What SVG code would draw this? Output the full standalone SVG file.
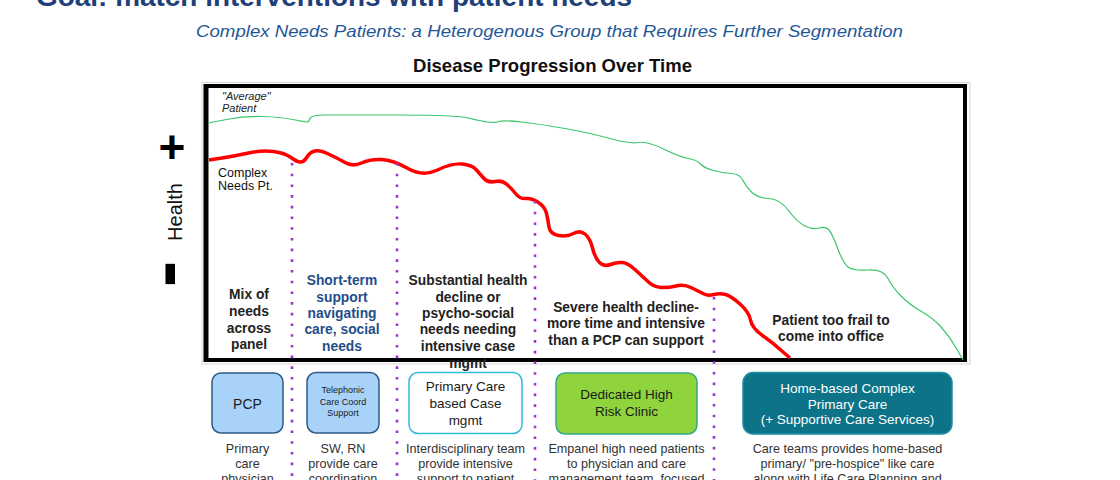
<svg xmlns="http://www.w3.org/2000/svg" width="1120" height="480" viewBox="0 0 1120 480">
<style>
text{font-family:"Liberation Sans",Arial,Helvetica,sans-serif}
.lbl{font-size:13.8px;font-weight:bold;fill:#222;text-anchor:middle}
.blue{fill:#1f4e8a}
.box{stroke-width:1.5}
.bt{font-size:13.5px;fill:#1a1a1a;text-anchor:middle}
.small{font-size:9px}
.big{font-size:14px}
.white{fill:#fff}
.desc{font-size:12.6px;fill:#333;text-anchor:middle}
.div{stroke:#9b35cf;stroke-width:2.6;stroke-dasharray:2.6 8.1;fill:none}
</style>
<rect width="1120" height="480" fill="#fff"/>
<g id="titles">
<text x="36" y="6" font-size="28" font-weight="bold" fill="#1f3f78" textLength="596" lengthAdjust="spacingAndGlyphs">Goal: match interventions with patient needs</text>
<text x="196" y="37" font-size="16.5" font-style="italic" fill="#1f5796" textLength="707" lengthAdjust="spacingAndGlyphs">Complex Needs Patients: a Heterogenous Group that Requires Further Segmentation</text>
<text x="413" y="72" font-size="18.5" font-weight="bold" fill="#111" textLength="279" lengthAdjust="spacingAndGlyphs">Disease Progression Over Time</text>
</g>
<g id="axis">
<text x="172" y="163" font-size="46" font-weight="bold" fill="#000" text-anchor="middle">+</text>
<text transform="translate(182,212) rotate(-90)" font-size="20" fill="#111" text-anchor="middle">Health</text>
<text transform="translate(191,274) rotate(-90)" font-size="80" font-weight="bold" fill="#000" text-anchor="middle">-</text>
</g>
<g id="chart">
<rect x="202" y="82.5" width="768" height="281.5" fill="none" stroke="#d4d4d4" stroke-width="1"/>
<rect x="206" y="86" width="759" height="274" fill="#fff" stroke="#000" stroke-width="4"/>
<line x1="206" y1="84" x2="206" y2="362" stroke="#000" stroke-width="5"/>
<text x="222" y="100" font-size="11" font-style="italic" fill="#222">"Average"</text>
<text x="222" y="112" font-size="11" font-style="italic" fill="#222">Patient</text>
<text x="218" y="177" font-size="12.5" fill="#111">Complex</text>
<text x="218" y="190" font-size="12.5" fill="#111">Needs Pt.</text>
</g>
<g id="curves" fill="none">
<path id="average" stroke="#3cc56c" stroke-width="1.2" d="M208,123 L226.5,119.5 Q245,116 262.5,116.5 Q280,117 292.5,119.5 Q305,122 307,122 Q309,122 310,118.5 Q311,115 325.5,115 Q340,115 398.5,115 Q457,115 468.5,118 Q480,121 487.5,122 Q495,123 499,121.5 Q503,120 521.5,122 Q540,124 565,128.5 Q590,133 610,138.5 Q630,144 638.5,142.5 Q647,141 663.5,149 Q680,157 688.5,158.5 Q697,160 700.5,164 Q704,168 713.5,170.5 Q723,173 731.5,173.5 Q740,174 743,180.5 Q746,187 752,192.5 Q758,198 769,198.5 Q780,199 788.5,210.5 Q797,222 805,226 Q813,230 819,228 Q825,226 828.5,229.5 Q832,233 837.5,248 Q843,263 848,267 Q853,271 868,270 Q883,269 888,278.5 Q893,288 901.5,296.5 Q910,305 921.5,311.5 Q933,318 941.5,327.5 Q950,337 956.5,348.5 L963,360"/>
<path id="complex" stroke="#ff0000" stroke-width="3.5" stroke-linejoin="round" d="M209,160 L222,158 Q235,156 248.5,153 Q262,150 273.5,151.5 Q285,153 291,157.5 Q297,162 300.5,162 Q304,162 307,157 Q310,152 315,151 Q320,150 328.5,154 Q337,158 345,162.5 Q353,167 361.5,163 Q370,159 381.5,159.5 Q393,160 408,168.5 Q423,177 437.5,170 Q452,163 462,164 Q472,165 476,169.5 Q480,174 484,178.5 Q488,183 495,181.5 Q502,180 507,184.5 Q512,189 516,194 Q520,199 526,198.5 Q532,198 538.5,202.5 Q545,207 546.5,213.5 Q548,220 549,227 Q550,234 558.5,235.5 Q567,237 573.5,233.5 Q580,230 585,234 Q590,238 592.5,248 Q595,258 599.5,262.5 Q604,267 610.5,264.5 Q617,262 622.5,262.5 Q628,263 635.5,270 Q643,277 648.5,282 Q654,287 661,287.5 Q668,288 676,286 Q684,284 692,288 Q700,292 704,294 Q708,296 714,294.5 Q720,293 725.5,294.5 Q731,296 740,304 Q749,312 750.5,320 Q752,328 762.5,335.5 Q773,343 782.5,351.5 L790,358"/>
</g>
<g id="connectors">
<line class="div" x1="292" y1="163" x2="292" y2="480"/>
<line class="div" x1="397" y1="163" x2="397" y2="480"/>
<line class="div" x1="535" y1="201" x2="535" y2="480"/>
<line class="div" x1="714" y1="297" x2="714" y2="480"/>
</g>
<g id="stage-labels">
<text class="lbl"><tspan x="249" y="299">Mix of</tspan><tspan x="249" y="316">needs</tspan><tspan x="249" y="333">across</tspan><tspan x="249" y="349">panel</tspan></text>
<text class="lbl blue"><tspan x="342" y="285">Short-term</tspan><tspan x="342" y="302">support</tspan><tspan x="342" y="318">navigating</tspan><tspan x="342" y="334">care, social</tspan><tspan x="342" y="351">needs</tspan></text>
<text class="lbl"><tspan x="468" y="285">Substantial health</tspan><tspan x="468" y="302">decline or</tspan><tspan x="468" y="318">psycho-social</tspan><tspan x="468" y="334">needs needing</tspan><tspan x="468" y="351">intensive case</tspan><tspan x="468" y="368">mgmt</tspan></text>
<text class="lbl"><tspan x="626" y="312">Severe health decline-</tspan><tspan x="626" y="328">more time and intensive</tspan><tspan x="626" y="345">than a PCP can support</tspan></text>
<text class="lbl"><tspan x="831" y="325">Patient too frail to</tspan><tspan x="831" y="341">come into office</tspan></text>
</g>
<g id="node-pcp">
<rect class="box" x="212" y="373" width="71" height="60" rx="9" fill="#a9d2f8" stroke="#2e5a86"/>
<text class="bt big" x="247.5" y="409">PCP</text>
<text class="desc"><tspan x="247.5" y="453">Primary</tspan><tspan x="247.5" y="468">care</tspan><tspan x="247.5" y="483">physician</tspan></text>
</g>
<g id="node-telephonic">
<rect class="box" x="307" y="372.5" width="72" height="60.5" rx="9" fill="#a9d2f8" stroke="#2e5a86"/>
<text class="bt small"><tspan x="343" y="393">Telephonic</tspan><tspan x="343" y="405">Care Coord</tspan><tspan x="343" y="416">Support</tspan></text>
<text class="desc"><tspan x="343" y="453">SW, RN</tspan><tspan x="343" y="468">provide care</tspan><tspan x="343" y="483">coordination</tspan></text>
</g>
<g id="node-casemgmt">
<rect class="box" x="409" y="372.5" width="113" height="61" rx="9" fill="#fff" stroke="#2fbcd6"/>
<text class="bt"><tspan x="465.5" y="391">Primary Care</tspan><tspan x="465.5" y="408">based Case</tspan><tspan x="465.5" y="425">mgmt</tspan></text>
<text class="desc"><tspan x="465.5" y="453">Interdisciplinary team</tspan><tspan x="465.5" y="468">provide intensive</tspan><tspan x="465.5" y="483">support to patient</tspan></text>
</g>
<g id="node-clinic">
<rect class="box" x="556" y="373" width="141" height="61" rx="9" fill="#8fd43c" stroke="#35a88a"/>
<text class="bt"><tspan x="626.5" y="399">Dedicated High</tspan><tspan x="626.5" y="416">Risk Clinic</tspan></text>
<text class="desc"><tspan x="626.5" y="453">Empanel high need patients</tspan><tspan x="626.5" y="468">to physician and care</tspan><tspan x="626.5" y="483">management team, focused</tspan></text>
</g>
<g id="node-home">
<rect class="box" x="743" y="372.5" width="209" height="61.5" rx="10" fill="#0c7388" stroke="#1d8ea3"/>
<text class="bt white"><tspan x="847.5" y="393">Home-based Complex</tspan><tspan x="847.5" y="409">Primary Care</tspan><tspan x="847.5" y="424">(+ Supportive Care Services)</tspan></text>
<text class="desc"><tspan x="847.5" y="453">Care teams provides home-based</tspan><tspan x="847.5" y="468">primary/ "pre-hospice" like care</tspan><tspan x="847.5" y="483">along with Life Care Planning and</tspan></text>
</g>
</svg>
